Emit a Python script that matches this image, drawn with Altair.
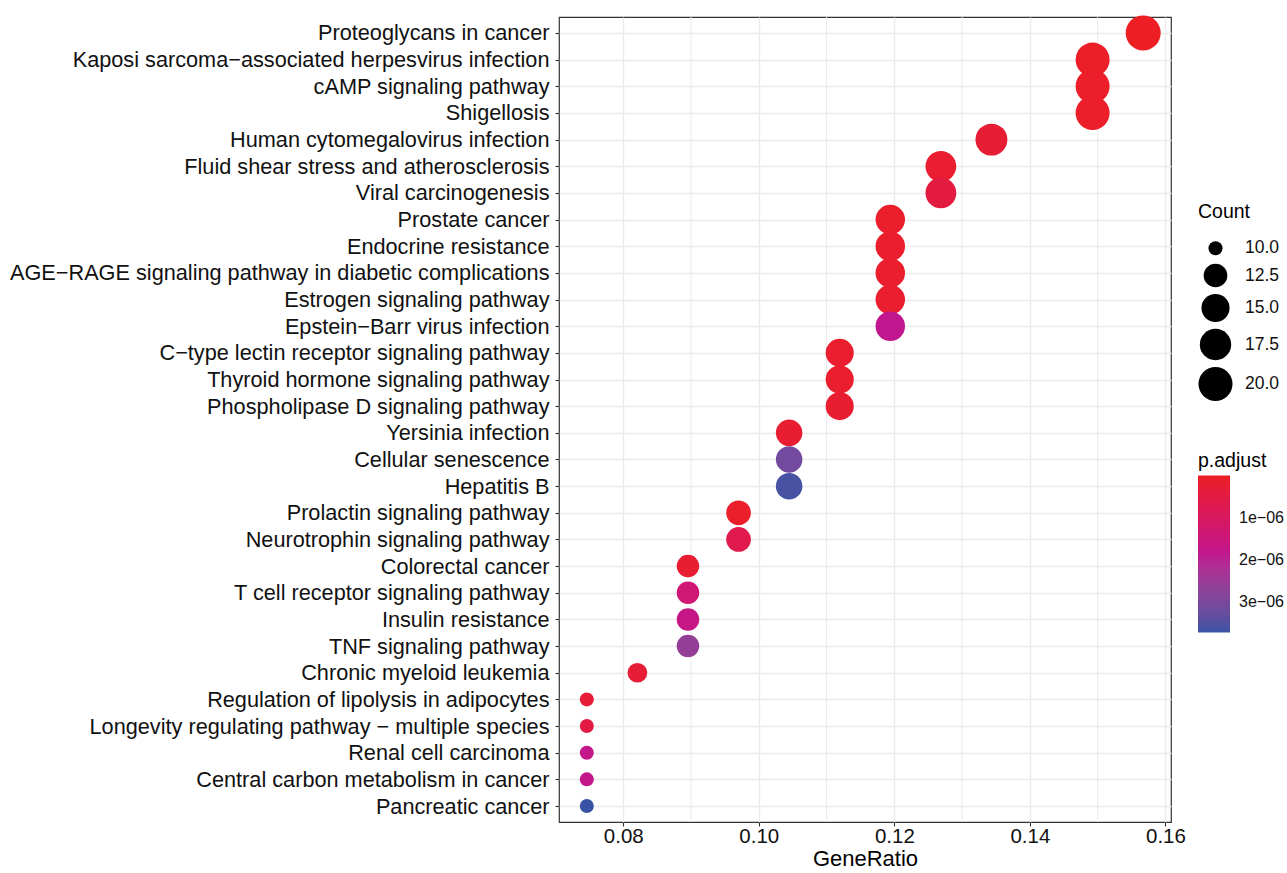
import altair as alt
import pandas as pd

M = "\u2212"
pathways = [
    "Proteoglycans in cancer",
    f"Kaposi sarcoma{M}associated herpesvirus infection",
    "cAMP signaling pathway",
    "Shigellosis",
    "Human cytomegalovirus infection",
    "Fluid shear stress and atherosclerosis",
    "Viral carcinogenesis",
    "Prostate cancer",
    "Endocrine resistance",
    f"AGE{M}RAGE signaling pathway in diabetic complications",
    "Estrogen signaling pathway",
    f"Epstein{M}Barr virus infection",
    f"C{M}type lectin receptor signaling pathway",
    "Thyroid hormone signaling pathway",
    "Phospholipase D signaling pathway",
    "Yersinia infection",
    "Cellular senescence",
    "Hepatitis B",
    "Prolactin signaling pathway",
    "Neurotrophin signaling pathway",
    "Colorectal cancer",
    "T cell receptor signaling pathway",
    "Insulin resistance",
    "TNF signaling pathway",
    "Chronic myeloid leukemia",
    "Regulation of lipolysis in adipocytes",
    f"Longevity regulating pathway {M} multiple species",
    "Renal cell carcinoma",
    "Central carbon metabolism in cancer",
    "Pancreatic cancer",
]
counts = [21, 20, 20, 20, 18, 17, 17, 16, 16, 16, 16, 16, 15, 15, 15,
          14, 14, 14, 13, 13, 12, 12, 12, 12, 11, 10, 10, 10, 10, 10]
gene_ratio = [c / 134 for c in counts]
p_adjust = [5e-09, 6e-08, 8e-08, 9e-08, 2.8e-07, 1.8e-07, 4.5e-07, 1.2e-07,
            1.3e-07, 1.4e-07, 1.5e-07, 1.85e-06, 1.6e-07, 1.7e-07, 2.0e-07,
            1.9e-07, 3.1e-06, 3.6e-06, 1.1e-07, 6.5e-07, 2.2e-07, 1.35e-06,
            1.7e-06, 2.6e-06, 3.0e-07, 3.2e-07, 5.0e-07, 1.75e-06, 1.75e-06,
            3.72e-06]
x_ticks = [0.08, 0.10, 0.12, 0.14, 0.16]
minor_grid = [0.09, 0.11, 0.13, 0.15]
count_breaks = [10.0, 12.5, 15.0, 17.5, 20.0]
p_breaks = [1e-06, 2e-06, 3e-06]

df = pd.DataFrame({"Description": pathways, "Count": counts,
                   "GeneRatio": gene_ratio, "p": p_adjust})
df["negp"] = -df["p"]
df["u"] = df["Count"] - 10

xmin = min(gene_ratio) - 0.05 * (max(gene_ratio) - min(gene_ratio))
xmax = max(gene_ratio) + 0.05 * (max(gene_ratio) - min(gene_ratio))
xscale = alt.Scale(domain=[xmin, xmax], nice=False, zero=False)

FONT = "Liberation Sans"

minor = alt.Chart(pd.DataFrame({"v": minor_grid})).mark_rule(
    color="#EBEBEB", strokeWidth=1.0
).encode(x=alt.X("v:Q", scale=xscale))

points = alt.Chart(df).mark_circle(opacity=1, stroke=None).encode(
    x=alt.X("GeneRatio:Q", scale=xscale,
            axis=alt.Axis(values=x_ticks, format=".2f", title="GeneRatio",
                          labelFontSize=20.5, titleFontSize=22,
                          titleFontWeight="normal", titleColor="black",
                          titlePadding=2, labelPadding=0, tickSize=4,
                          labelFlush=False)),
    y=alt.Y("Description:N", sort=pathways,
            scale=alt.Scale(type="point", padding=0.6),
            axis=alt.Axis(title=None, labelFontSize=21.7, labelPadding=6,
                          tickSize=4, labelLimit=800, grid=True)),
    size=alt.Size("u:Q",
                  scale=alt.Scale(type="pow", exponent=0.7, domain=[0, 11],
                                  range=[196, 1225], zero=False),
                  legend=alt.Legend(title="Count", orient="none",
                                    legendX=639, legendY=186,
                                    values=[b - 10 for b in count_breaks],
                                    labelExpr="format(datum.value + 10, '.1f')",
                                    symbolFillColor="black",
                                    symbolStrokeWidth=0, symbolType="circle",
                                    titleFontSize=19.5, labelFontSize=17.5,
                                    labelOffset=12, rowPadding=6,
                                    titlePadding=17)),
    color=alt.Color("negp:Q",
                    scale=alt.Scale(domain=[-max(p_adjust), -min(p_adjust)],
                                    range=["#3953A4", "#C0168F", "#ED1F24"],
                                    interpolate="lab", nice=False, zero=False),
                    legend=alt.Legend(title="p.adjust", orient="none",
                                      legendX=639, legendY=435,
                                      direction="vertical",
                                      gradientLength=157,
                                      gradientThickness=32,
                                      gradientStrokeWidth=0,
                                      values=[-b for b in p_breaks],
                                      labelExpr=f"toString(round(-datum.value*1e6)) + 'e{M}06'",
                                      titleFontSize=19.5, labelFontSize=16,
                                      labelOffset=9, titlePadding=4,
                                      labelOverlap=False)),
)

chart = alt.layer(minor, points).properties(
    width=612, height=805,
    autosize=alt.AutoSizeParams(type="none"),
    padding={"left": 559, "top": 17, "right": 116, "bottom": 51},
).configure(font=FONT).configure_view(
    stroke="#333333", strokeWidth=1.2
).configure_axis(
    domain=False, tickColor="#333333", tickWidth=1.1,
    labelColor="#111111", labelFont=FONT, titleFont=FONT,
    gridColor="#EBEBEB", gridWidth=1.4,
).configure_legend(
    titleFont=FONT, labelFont=FONT, titleColor="black", labelColor="#111111",
    titleFontWeight="normal",
)

chart.save("out.html", embed_options={"renderer": "svg", "actions": False})
